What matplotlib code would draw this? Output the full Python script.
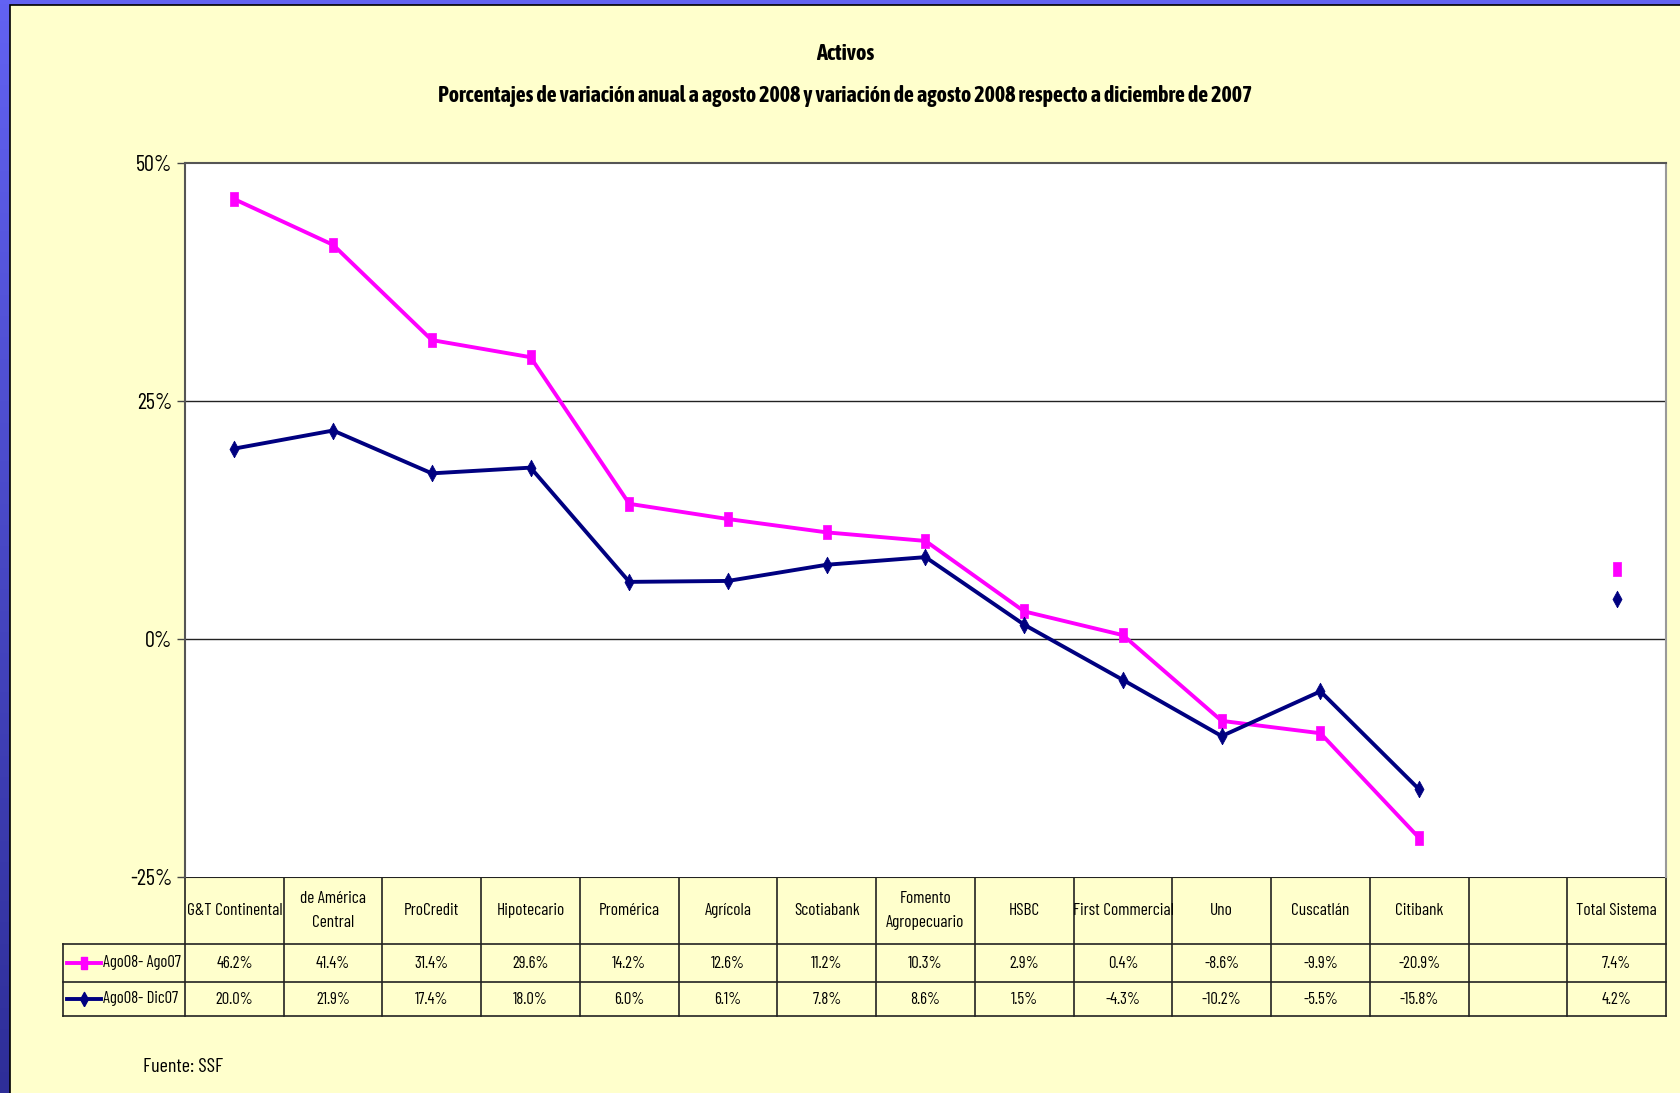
import numpy as np
import matplotlib.pyplot as plt
from matplotlib.colors import LinearSegmentedColormap
from matplotlib.patches import Rectangle
from matplotlib.lines import Line2D

W, H = 1681, 1093
FONT = ["Barlow Condensed", "DejaVu Sans"]
BOLD = ["Asap Condensed", "DejaVu Sans"]

categories = ["G&T Continental", "de América\nCentral", "ProCredit", "Hipotecario",
              "Promérica", "Agrícola", "Scotiabank", "Fomento\nAgropecuario", "HSBC",
              "First Commercial", "Uno", "Cuscatlán", "Citibank", "", "Total Sistema"]
ago_ago = [46.2, 41.4, 31.4, 29.6, 14.2, 12.6, 11.2, 10.3, 2.9, 0.4, -8.6, -9.9, -20.9, np.nan, 7.4]
ago_dic = [20.0, 21.9, 17.4, 18.0, 6.0, 6.1, 7.8, 8.6, 1.5, -4.3, -10.2, -5.5, -15.8, np.nan, 4.2]
series_names = ["Ago08- Ago07", "Ago08- Dic07"]
colors = ["#FF00FF", "#000080"]
yticks = [-25, 0, 25, 50]

# layout in pixels
L, R, TOP, BOT = 185, 1666, 163, 877
ROW1, ROW2, TBOT = 944, 982, 1016
LEG_L = 63

plt.rcParams["font.family"] = FONT
fig = plt.figure(figsize=(W / 100, H / 100), dpi=100)

# background: blue gradient frame + yellow panel
bg = fig.add_axes([0, 0, 1, 1])
grad = np.linspace(0, 1, 256).reshape(-1, 1)
bg.imshow(grad, aspect="auto", extent=[0, W, H, 0],
          cmap=LinearSegmentedColormap.from_list("b", ["#6262F2", "#2E2E98"]))
bg.add_patch(Rectangle((10, 5), W, H, facecolor="#FFFFCC", edgecolor="black", linewidth=1.2))
bg.set_xlim(0, W)
bg.set_ylim(H, 0)
bg.axis("off")

ax = fig.add_axes([L / W, 1 - BOT / H, (R - L) / W, (BOT - TOP) / H])
x = np.arange(len(categories))
rect = [(-0.5, -1), (0.5, -1), (0.5, 1), (-0.5, 1), (-0.5, -1)]
diamond = [(0, -1), (0.55, 0), (0, 1), (-0.55, 0), (0, -1)]
markers = [rect, diamond]
msizes = [10.5, 12]
for vals, c, m, ms in zip([ago_ago, ago_dic], colors, markers, msizes):
    ax.plot(x, vals, color=c, linewidth=2.8, marker=m, markersize=ms,
            markerfacecolor=c, markeredgecolor=c, markeredgewidth=0.5)
ax.set_xlim(-0.5, len(categories) - 0.5)
ax.set_ylim(-25, 50)
ax.set_yticks(yticks)
ax.set_yticklabels([f"{t}%" for t in yticks], fontsize=16)
ax.set_xticks([])
ax.tick_params(axis="y", direction="out", length=6, width=1, color="#444444", pad=3)
for t in [0, 25]:
    ax.axhline(t, color="#222222", linewidth=1, zorder=0)
for s in ["left", "top"]:
    ax.spines[s].set_color("#555555")
    ax.spines[s].set_linewidth(1.5)
ax.spines["right"].set_color("#999999")
ax.spines["right"].set_linewidth(1.5)
ax.spines["bottom"].set_visible(False)

# titles
bg.text(845, 54, "Activos", ha="center", va="center", fontsize=16,
        fontweight="bold", family=BOLD)
bg.text(845, 96, "Porcentajes de variación anual a agosto 2008 y variación de agosto 2008 respecto a diciembre de 2007",
        ha="center", va="center", fontsize=15.8, fontweight="bold", family=BOLD)
bg.text(143, 1067, "Fuente: SSF", ha="left", va="center", fontsize=14.5)

# data table
n = len(categories)
cw = (R - L) / n
lc = "#222222"
bg.plot([L, R], [BOT, BOT], color=lc, lw=1.5)
bg.plot([LEG_L, R], [ROW1, ROW1], color=lc, lw=1.2)
bg.plot([LEG_L, R], [ROW2, ROW2], color=lc, lw=1.2)
bg.plot([LEG_L, R], [TBOT, TBOT], color=lc, lw=1.2)
bg.plot([LEG_L, LEG_L], [ROW1, TBOT], color=lc, lw=1.2)
for i in range(n + 1):
    xe = L + i * cw
    bg.plot([xe, xe], [BOT, TBOT], color=lc, lw=1.2)
for i, cat in enumerate(categories):
    xc = L + (i + 0.5) * cw
    bg.text(xc, (BOT + ROW1) / 2, cat, ha="center", va="center", fontsize=12.5, linespacing=1.8)
    for vals, yc in zip([ago_ago, ago_dic], [(ROW1 + ROW2) / 2, (ROW2 + TBOT) / 2]):
        if not np.isnan(vals[i]):
            bg.text(xc, yc, f"{vals[i]:.1f}%", ha="center", va="center", fontsize=12)
for name, c, m, ms, yc in zip(series_names, colors, markers, msizes,
                               [(ROW1 + ROW2) / 2, (ROW2 + TBOT) / 2]):
    bg.add_line(Line2D([67, 101], [yc, yc], color=c, lw=2.8))
    bg.plot([84], [yc], marker=m, markersize=ms * 0.85, color=c)
    bg.text(103, yc, name, ha="left", va="center", fontsize=12)

fig.savefig("out.png", dpi=100)
